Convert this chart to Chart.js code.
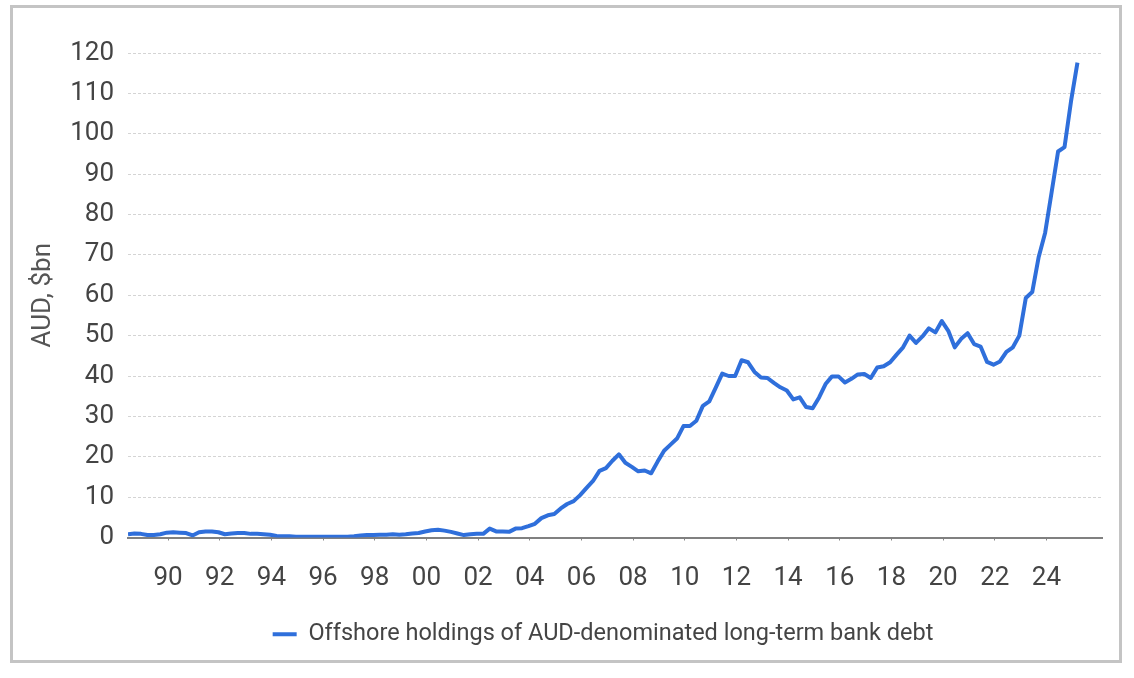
<!DOCTYPE html>
<html>
<head>
<meta charset="utf-8">
<script src="https://cdn.jsdelivr.net/npm/chart.js@4.4.1/dist/chart.umd.min.js"></script>
<style>
  html, body { margin: 0; padding: 0; background: #fff; }
  #wrap { position: relative; width: 1134px; height: 678px; }
  #frame { position: absolute; left: 10px; top: 5px; width: 1106px; height: 652px; border: 3px solid #c4c4c4; pointer-events: none; }
  canvas { position: absolute; left: 0; top: 0; }
</style>
</head>
<body>
<div id="wrap">
  <canvas id="debt_chart" width="1134" height="678"></canvas>
  <div id="frame"></div>
</div>
<script>
const seriesLabel = "Offshore holdings of AUD-denominated long-term bank debt";

// quarterly observations, first one is Q3 1988
const firstQuarter = 1988.45;
const debt = [
  0.8, 1.0, 0.9,
  0.6, 0.6, 0.8, 1.2,      // 1989
  1.3, 1.2, 1.1, 0.5,      // 1990
  1.3, 1.5, 1.5, 1.3,
  0.8, 1.0, 1.1, 1.1,
  0.9, 0.9, 0.8, 0.7,
  0.4, 0.3, 0.3, 0.2,      // 1994
  0.2, 0.2, 0.2, 0.2,
  0.2, 0.2, 0.2, 0.2,
  0.3, 0.5, 0.6, 0.6,
  0.7, 0.7, 0.8, 0.7,
  0.8, 1.0, 1.1, 1.5,      // 1999
  1.8, 1.9, 1.7, 1.4,      // 2000
  1.0, 0.6, 0.8, 0.9,
  0.9, 2.2, 1.5, 1.5,
  1.4, 2.2, 2.3, 2.8,
  3.4, 4.8, 5.5, 5.8,      // 2004
  7.2, 8.3, 9.0, 10.5,
  12.3, 14.0, 16.5, 17.2,
  19.0, 20.6, 18.5, 17.5,
  16.4, 16.6, 15.9, 18.8,
  21.5, 23.0, 24.5, 27.6,  // 2009
  27.6, 28.9, 32.6, 33.7,  // 2010
  37.1, 40.6, 40.0, 40.0,
  43.9, 43.4, 41.0, 39.6,
  39.5, 38.3, 37.2, 36.4,
  34.2, 34.7, 32.3, 32.0,  // 2014
  34.7, 38.0, 39.9, 39.9,
  38.4, 39.3, 40.4, 40.5,
  39.5, 42.1, 42.4, 43.4,
  45.3, 47.1, 50.0, 48.2,
  49.8, 51.8, 50.8, 53.6,  // 2019
  51.2, 47.1, 49.2, 50.6,  // 2020
  47.9, 47.3, 43.5, 42.8,
  43.6, 46.0, 47.1, 50.0,
  59.3, 60.8, 69.5, 75.5,
  85.5, 95.6, 96.7, 108.0, // 2024
  117.6
];
const yearTicks = [1990, 1992, 1994, 1996, 1998, 2000, 2002, 2004, 2006,
  2008, 2010, 2012, 2014, 2016, 2018, 2020, 2022, 2024];

const blue = "#2f6fdb";
const points = debt.map((v, i) => ({ x: firstQuarter + i / 4, y: v }));

// the legend sits a little left of the plot centre in the original
const nudgeLegend = {
  id: "nudgeLegend",
  afterLayout(chart) {
    chart.legend.left -= 12;
    chart.legend.right -= 12;
  },
};

const ctx = document.getElementById("debt_chart").getContext("2d");
const chart = new Chart(ctx, {
  type: "line",
  data: {
    datasets: [
      {
        label: seriesLabel,
        data: points,
        borderColor: blue,
        backgroundColor: blue,
        borderWidth: 4,
        pointRadius: 0,
        tension: 0,
        borderJoinStyle: "round",
      },
    ],
  },
  options: {
    responsive: false,
    animation: false,
    layout: { padding: { left: 10, right: 32, top: 53, bottom: 22 } },
    plugins: {
      legend: {
        position: "bottom",
        fullSize: false,
        labels: {
          usePointStyle: true,
          pointStyle: "line",
          pointStyleWidth: 24,
          color: "#444",
          font: { family: "Roboto", size: 23.5 },
          padding: 10,
        },
      },
      tooltip: { enabled: false },
    },
    scales: {
      x: {
        type: "linear",
        min: 1988.45,
        max: 2026.15,
        afterBuildTicks: (scale) => {
          scale.ticks = yearTicks.map((v) => ({ value: v }));
        },
        afterFit: (scale) => {
          scale.height = 75;
        },
        ticks: {
          callback: (value) => String(value).slice(2),
          color: "#444",
          font: { family: "Roboto", size: 26 },
          padding: 22,
          maxRotation: 0,
          autoSkip: false,
        },
        grid: { drawOnChartArea: false, tickLength: 3, color: "#888" },
        border: { color: "#808080", width: 2 },
      },
      y: {
        min: 0,
        max: 120,
        afterFit: (scale) => {
          scale.width = 118;
        },
        ticks: {
          stepSize: 10,
          color: "#444",
          font: { family: "Roboto", size: 26 },
          padding: 14,
        },
        grid: { color: "#d4d4d4", lineWidth: 1, drawTicks: false },
        border: { display: false, dash: [3, 2] },
        title: {
          display: true,
          text: "AUD, $bn",
          color: "#555",
          font: { family: "Roboto", size: 26 },
          padding: { top: 18, bottom: 0 },
        },
      },
    },
  },
  plugins: [nudgeLegend],
});
</script>
</body>
</html>
